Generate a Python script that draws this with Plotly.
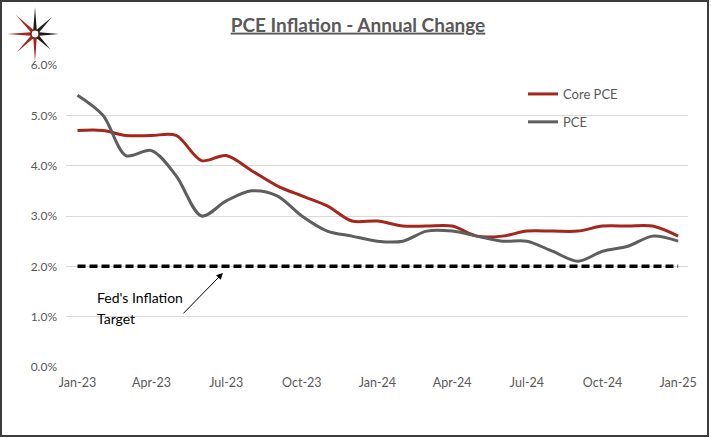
import math
import plotly.graph_objects as go

# ---------------- data ----------------
months = ["2023-01-01", "2023-02-01", "2023-03-01", "2023-04-01", "2023-05-01", "2023-06-01",
          "2023-07-01", "2023-08-01", "2023-09-01", "2023-10-01", "2023-11-01", "2023-12-01",
          "2024-01-01", "2024-02-01", "2024-03-01", "2024-04-01", "2024-05-01", "2024-06-01",
          "2024-07-01", "2024-08-01", "2024-09-01", "2024-10-01", "2024-11-01", "2024-12-01",
          "2025-01-01"]
core_pce = [4.7, 4.7, 4.6, 4.6, 4.6, 4.1, 4.2, 3.9, 3.6, 3.4, 3.2, 2.9,
            2.9, 2.8, 2.8, 2.8, 2.6, 2.6, 2.7, 2.7, 2.7, 2.8, 2.8, 2.8, 2.6]
pce = [5.4, 5.0, 4.2, 4.3, 3.8, 3.0, 3.3, 3.5, 3.4, 3.0, 2.7, 2.6,
       2.5, 2.5, 2.7, 2.7, 2.6, 2.5, 2.5, 2.3, 2.1, 2.3, 2.4, 2.6, 2.5]
target_dates = ["2023-01-01", "2025-01-01"]
target = [2.0, 2.0]
tick_dates = ["2023-01-01", "2023-04-01", "2023-07-01", "2023-10-01", "2024-01-01",
              "2024-04-01", "2024-07-01", "2024-10-01", "2025-01-01"]
tick_labels = ["Jan-23", "Apr-23", "Jul-23", "Oct-23", "Jan-24", "Apr-24", "Jul-24", "Oct-24", "Jan-25"]
y_ticks = [0, 1, 2, 3, 4, 5, 6]
y_tick_labels = ["0.0%", "1.0%", "2.0%", "3.0%", "4.0%", "5.0%", "6.0%"]

# ---------------- layout geometry ----------------
W, H = 711, 438
L, R, T, B = 66, 23, 65, 71
PW, PH = W - L - R, H - T - B
FONT = "Lato, 'Open Sans', sans-serif"
RED = "#A5261C"
GRAY = "#5E5E5E"
TXT = "#595959"


def px(xp):
    return (xp - L) / PW


def py(yp):
    return (H - B - yp) / PH


fig = go.Figure()
fig.add_trace(go.Scatter(x=target_dates, y=target, mode="lines", showlegend=False,
                         line=dict(color="black", width=3.5, dash="8px,4px"), hoverinfo="skip"))
fig.add_trace(go.Scatter(x=months, y=core_pce, name="Core PCE", mode="lines", legendgroup="a",
                         line=dict(color=RED, width=3, shape="spline", smoothing=0.9)))
fig.add_trace(go.Scatter(x=months, y=pce, name="PCE", mode="lines", legendgroup="b",
                         line=dict(color=GRAY, width=3, shape="spline", smoothing=0.9)))

shapes = []
# outer border
shapes.append(dict(type="rect", xref="paper", yref="paper",
                   x0=px(1), x1=px(708), y0=py(1), y1=py(436),
                   line=dict(color="#3C3C3C", width=2)))

# logo (compass star)
cx, cy = 35, 34
spikes = [(90, 27, "#1C1C1C"), (45, 24, "#1C1C1C"), (0, 24, "#1C1C1C"), (-45, 22, "#1C1C1C"),
          (-90, 28, RED), (-135, 26, RED), (180, 28, RED), (135, 27, RED)]
r_in = 4.5
for ang, rr, col in spikes:
    a = math.radians(ang)
    tip = (cx + rr * math.cos(a), cy - rr * math.sin(a))
    a1 = math.radians(ang + 22.5)
    a2 = math.radians(ang - 22.5)
    p1 = (cx + r_in * math.cos(a1), cy - r_in * math.sin(a1))
    p2 = (cx + r_in * math.cos(a2), cy - r_in * math.sin(a2))
    pts = [tip, p1, (cx, cy), p2]
    path = "M " + " L ".join(f"{px(x):.5f},{py(y):.5f}" for x, y in pts) + " Z"
    shapes.append(dict(type="path", xref="paper", yref="paper", path=path,
                       fillcolor=col, line=dict(width=0)))
shapes.append(dict(type="circle", xref="paper", yref="paper",
                   x0=px(cx - 4), x1=px(cx + 4), y0=py(cy + 4), y1=py(cy - 4),
                   fillcolor="white", line=dict(color="#5a1010", width=1.2)))

annotations = [
    dict(x="2023-06-27", y=1.87, xref="x", yref="y", text="", showarrow=True,
         ax=-41, ay=42, arrowhead=2, arrowsize=1.3, arrowwidth=1, arrowcolor="black", standoff=0),
    dict(x=px(95), y=py(297), xref="paper", yref="paper", text="Fed's Inflation", showarrow=False,
         xanchor="left", yanchor="middle", font=dict(family=FONT, size=14, color="black")),
    dict(x=px(95), y=py(318), xref="paper", yref="paper", text="Target", showarrow=False,
         xanchor="left", yanchor="middle", font=dict(family=FONT, size=14, color="black")),
]

fig.update_layout(
    width=W, height=H,
    margin=dict(l=L, r=R, t=T, b=B),
    paper_bgcolor="white", plot_bgcolor="white",
    font=dict(family=FONT, color=TXT, size=12),
    title=dict(text="<u>PCE Inflation - Annual Change</u>", x=358 / W, xanchor="center",
               y=1 - 25 / H, yanchor="middle",
               font=dict(family=FONT, size=19, color=TXT, weight="bold")),
    xaxis=dict(range=["2022-12-18", "2025-01-13"], tickvals=tick_dates, ticktext=tick_labels,
               showgrid=False, zeroline=False, showline=False, ticks="", ticklabelstandoff=6,
               tickfont=dict(size=12.5, color=TXT)),
    yaxis=dict(range=[0, 6], tickvals=y_ticks, ticktext=y_tick_labels,
               showgrid=True, gridcolor="#D9D9D9", gridwidth=1, zeroline=False, showline=False,
               ticks="", ticklabelstandoff=8, tickfont=dict(size=12, color=TXT)),
    legend=dict(x=px(523), y=py(79), xanchor="left", yanchor="top", bgcolor="rgba(0,0,0,0)",
                font=dict(family=FONT, size=13, color=TXT), tracegroupgap=8,
                traceorder="grouped"),
    shapes=shapes,
    annotations=annotations,
    showlegend=True,
)

fig.write_html("out.html", config={"displayModeBar": False},
               post_script="document.body.style.margin='0';document.body.style.padding='0';")
